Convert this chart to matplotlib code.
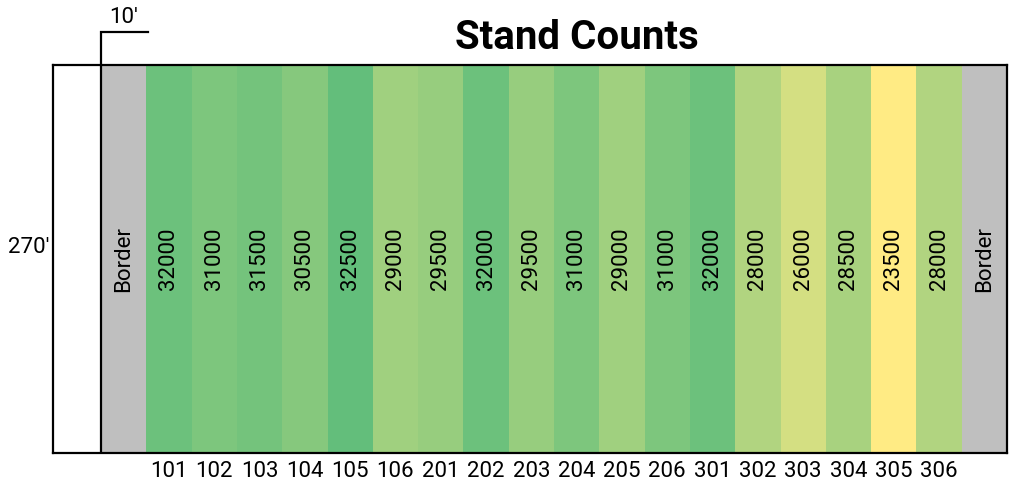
import numpy as np
import matplotlib
matplotlib.use('Agg')
import matplotlib.pyplot as plt
from matplotlib.colors import to_rgb

plt.rcParams['font.family'] = ['Roboto', 'DejaVu Sans']

# plot numbers and stand counts, left to right
plots = ['101', '102', '103', '104', '105', '106',
         '201', '202', '203', '204', '205', '206',
         '301', '302', '303', '304', '305', '306']
counts = [32000, 31000, 31500, 30500, 32500, 29000,
          29500, 32000, 29500, 31000, 29000, 31000,
          32000, 28000, 26000, 28500, 23500, 28000]
border_label = 'Border'
width_label = "10'"
length_label = "270'"

# two colour scale (yellow = min, green = max)
lo_col = np.array(to_rgb('#FFEB84'))
hi_col = np.array(to_rgb('#63BE7B'))
vals = np.array(counts, dtype=float)
t = (vals - vals.min()) / (vals.max() - vals.min())
colors = [tuple(lo_col + (hi_col - lo_col) * ti) for ti in t]

fig = plt.figure(figsize=(10.09, 4.87), dpi=100)
ax = fig.add_axes([53/1009, 34/487, 954/1009, 388/487])

# column 0 border, 1..18 plots, 19 border; white strip left of 0
ncol = len(plots) + 2
colw = 906 / ncol  # px per column
ax.bar([0, ncol - 1], 1, width=1, align='edge', color='#BFBFBF')
xs = np.arange(len(plots)) + 1
ax.bar(xs, 1, width=1, align='edge', color=colors)

fs = 16
for x, c, p in zip(xs, counts, plots):
    ax.text(x + 0.5, 0.5, str(c), rotation=90, ha='center', va='center',
            fontsize=fs)
    ax.text(x + 0.5, -0.048, p, ha='center', va='center', fontsize=fs)
for x in [0, ncol - 1]:
    ax.text(x + 0.5, 0.5, border_label, rotation=90, ha='center', va='center',
            fontsize=fs)

ax.set_xlim(-48 / colw, ncol)
ax.set_ylim(0, 1)
ax.set_xticks([])
ax.set_yticks([])
for s in ax.spines.values():
    s.set_linewidth(1.6)
    s.set_color('black')
ax.axvline(0, color='black', lw=1.6)

# 10' bracket above the first border column
bh = 33 / 388
ax.plot([0, 0, 1.03], [1, 1 + bh, 1 + bh], color='black', lw=1.6,
        clip_on=False, solid_joinstyle='miter')
ax.text(0.5, 1 + 47/388, width_label, ha='center', va='center', fontsize=fs)
ax.text(-48 / colw - 0.07, 0.53, length_label, ha='right', va='center',
        fontsize=fs)

ax.text((577 - 101) / colw, 1 + 27/388, 'Stand Counts', ha='center',
        va='center', fontsize=29, fontweight='bold')

fig.savefig('out.png', dpi=100)
